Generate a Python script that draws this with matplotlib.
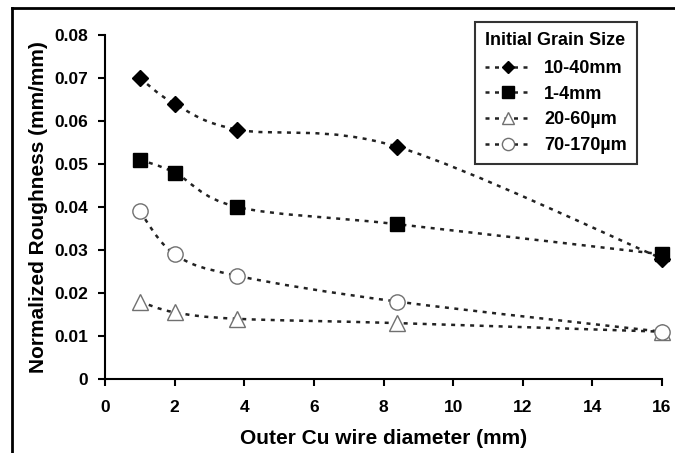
import numpy as np
import matplotlib
matplotlib.use('Agg')
import matplotlib.pyplot as plt
from matplotlib.path import Path
from matplotlib.patches import PathPatch
from matplotlib.lines import Line2D

plt.rcParams['font.family'] = ['Liberation Sans', 'DejaVu Sans']
plt.rcParams['font.weight'] = 'bold'

# data
diameter = [1.0, 2.0, 3.8, 8.4, 16.0]
labels = ['10-40mm', '1-4mm', '20-60\u00b5m', '70-170\u00b5m']
rough_10_40mm = [0.070, 0.064, 0.058, 0.054, 0.028]
rough_1_4mm = [0.051, 0.048, 0.040, 0.036, 0.029]
rough_20_60um = [0.018, 0.0155, 0.014, 0.013, 0.011]
rough_70_170um = [0.039, 0.029, 0.024, 0.018, 0.011]

series = [rough_10_40mm, rough_1_4mm, rough_20_60um, rough_70_170um]
markers = ['D', 's', '^', 'o']
msizes = [8, 10, 11, 11]
faces = ['black', 'black', 'white', 'white']
edges = ['black', 'black', '#707070', '#707070']
dash = (0, (1.6, 2.2))


def smooth_path(x, y):
    # Excel-like smoothed line: cubic bezier segments through the points
    pts = np.column_stack([x, y]).astype(float)
    n = len(pts)
    verts = [pts[0]]
    codes = [Path.MOVETO]
    for i in range(n - 1):
        p0 = pts[i - 1] if i > 0 else pts[i]
        p1 = pts[i]
        p2 = pts[i + 1]
        p3 = pts[i + 2] if i + 2 < n else pts[i + 1]
        c1 = p1 + (p2 - p0) / 6.0
        c2 = p2 - (p3 - p1) / 6.0
        verts += [c1, c2, p2]
        codes += [Path.CURVE4] * 3
    return Path(verts, codes)


fig = plt.figure(figsize=(6.75, 4.53), dpi=100)
ax = fig.add_axes([105 / 675, 1 - 379 / 453, (662 - 105) / 675, (379 - 35) / 453])

handles = []
for vals, m, ms, fc, ec, lab in zip(series, markers, msizes, faces, edges, labels):
    patch = PathPatch(smooth_path(diameter, vals), facecolor='none', edgecolor='#222222',
                      linewidth=1.8, linestyle=dash, zorder=2)
    ax.add_patch(patch)
    ax.plot(diameter, vals, linestyle='none', marker=m, markersize=ms,
            markerfacecolor=fc, markeredgecolor=ec, markeredgewidth=1.0,
            zorder=3, clip_on=False)
    handles.append(Line2D([], [], color='#222222', linewidth=1.8, linestyle=dash,
                          marker=m, markersize=ms * 0.8, markerfacecolor=fc,
                          markeredgecolor=ec, label=lab))

ax.set_xlim(0, 16)
ax.set_ylim(0, 0.08)
ax.set_xticks(np.arange(0, 17, 2))
ax.set_yticks(np.arange(0, 0.081, 0.01))
ax.set_yticklabels(['0'] + ['%.2f' % v for v in np.arange(0.01, 0.081, 0.01)])
ax.spines['top'].set_visible(False)
ax.spines['right'].set_visible(False)
ax.spines['left'].set_linewidth(1.5)
ax.spines['bottom'].set_linewidth(1.5)
ax.tick_params(direction='out', length=5, width=1.5, labelsize=12.5)
ax.tick_params(axis='x', pad=10)
ax.tick_params(axis='y', pad=7)
ax.set_xlabel('Outer Cu wire diameter (mm)', fontsize=15, fontweight='bold', labelpad=10)
ax.set_ylabel('Normalized Roughness (mm/mm)', fontsize=15, fontweight='bold', labelpad=5)

leg = ax.legend(handles=handles, title='Initial Grain Size', loc='upper right',
                bbox_to_anchor=(637 / 675, 1 - 22 / 453), bbox_transform=fig.transFigure,
                borderaxespad=0, fontsize=13, title_fontproperties={'weight': 'bold', 'size': 13},
                frameon=True, fancybox=False, edgecolor='black', handlelength=2.6,
                borderpad=0.55, labelspacing=0.48, handletextpad=0.7)
leg.get_frame().set_linewidth(1.5)
leg._legend_box.align = 'left'
leg._legend_box.sep = 8

# outer frame
fig.add_artist(Line2D([12 / 675, 12 / 675], [0, 1 - 8 / 453], color='black', linewidth=2,
                      transform=fig.transFigure))
fig.add_artist(Line2D([12 / 675, 1], [1 - 8 / 453, 1 - 8 / 453], color='black', linewidth=2,
                      transform=fig.transFigure))

fig.savefig('out.png', dpi=100)
